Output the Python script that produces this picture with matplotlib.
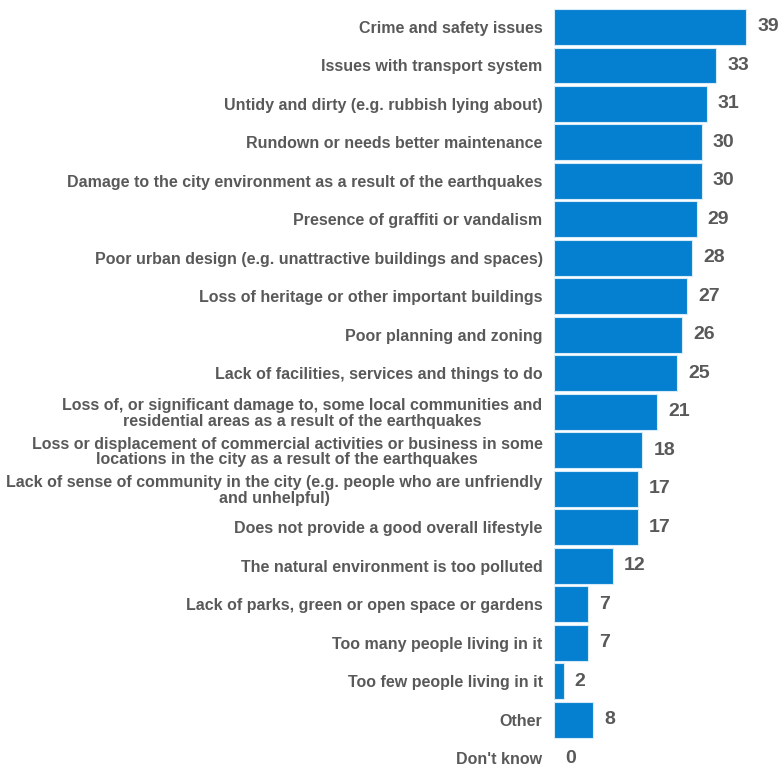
import matplotlib.pyplot as plt

plt.rcParams['font.family'] = ['Liberation Sans', 'DejaVu Sans']

categories = [
    'Crime and safety issues',
    'Issues with transport system',
    'Untidy and dirty (e.g. rubbish lying about)',
    'Rundown or needs better maintenance',
    'Damage to the city environment as a result of the earthquakes',
    'Presence of graffiti or vandalism',
    'Poor urban design (e.g. unattractive buildings and spaces)',
    'Loss of heritage or other important buildings',
    'Poor planning and zoning',
    'Lack of facilities, services and things to do',
    'Loss of, or significant damage to, some local communities and\nresidential areas as a result of the earthquakes',
    'Loss or displacement of commercial activities or business in some\nlocations in the city as a result of the earthquakes',
    'Lack of sense of community in the city (e.g. people who are unfriendly\nand unhelpful)',
    'Does not provide a good overall lifestyle',
    'The natural environment is too polluted',
    'Lack of parks, green or open space or gardens',
    'Too many people living in it',
    'Too few people living in it',
    'Other',
    "Don't know",
]
values = [39, 33, 31, 30, 30, 29, 28, 27, 26, 25, 21, 18, 17, 17, 12, 7, 7, 2, 8, 0]

bar_color = '#0580D0'
text_color = '#595959'

fig = plt.figure(figsize=(7.81, 7.67), dpi=100)
ax = fig.add_axes([0.709, 0.0, 0.291, 1.0])

pos = list(range(len(categories)))
edges = ['#d6eaf7' if v > 0 else 'none' for v in values]
ax.barh(pos, values, height=0.93, color=bar_color, edgecolor=edges, linewidth=0.8)

ax.set_xlim(0, 46.1)
ax.set_ylim(19.23, -0.70)

ax.set_yticks(pos)
ax.set_yticklabels(categories, fontsize=11.5, fontweight='bold', color=text_color,
                   linespacing=1.05)
for lbl in ax.get_yticklabels():
    lbl.set_multialignment('center')
ax.tick_params(axis='y', length=0, pad=8)
ax.set_xticks([])

for s in ax.spines.values():
    s.set_visible(False)

for i, v in enumerate(values):
    ax.annotate(str(v), (v, i), xytext=(8, 0), textcoords='offset points',
                ha='left', va='center', fontsize=14, fontweight='bold', color=text_color)

fig.savefig('out.png', dpi=100)
